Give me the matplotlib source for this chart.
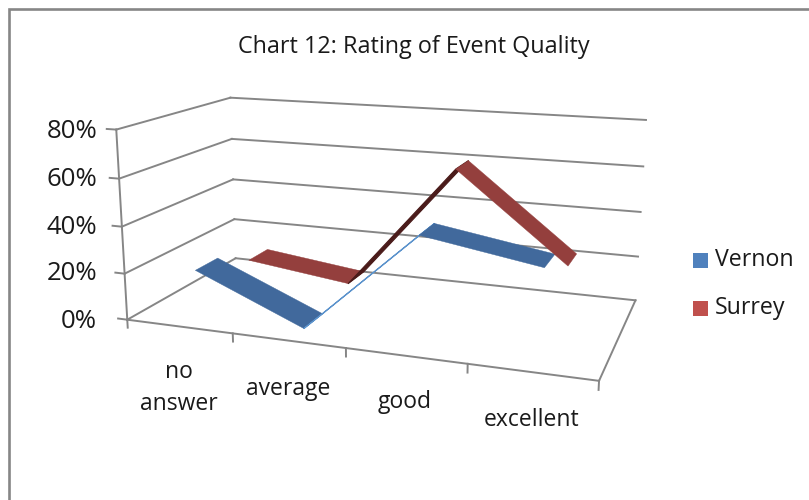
import numpy as np
import matplotlib
matplotlib.use('Agg')
import matplotlib.pyplot as plt
from matplotlib.patches import Rectangle
from mpl_toolkits.mplot3d.art3d import Poly3DCollection

plt.rcParams['font.family'] = ['Open Sans', 'DejaVu Sans']

W, H = 809, 500

categories = ['no\nanswer', 'average', 'good', 'excellent']
vernon = [20, 0.3, 44, 36]
surrey = [11, 5, 60.5, 23]
z_ticks = [0, 20, 40, 60, 80]
z_labels = ['0%', '20%', '40%', '60%', '80%']

GRID = '#868686'
INK = '#1a1a1a'

fig = plt.figure(figsize=(W / 100, H / 100), dpi=100, facecolor='white')

# outer chart border, only the top and left sides are inside the picture
fig.add_artist(Rectangle((8.5 / W, -0.1), 1.2, 1.1 - 9.5 / H, transform=fig.transFigure,
                         fill=False, edgecolor=GRID, linewidth=1.9))

# camera found by fitting to the frame of the reference
L = 539.8
ax = fig.add_axes([111.3 / W, 3.7 / H, L / W, L / H], projection='3d', computed_zorder=False)
ax.set_xlim(0, 4, view_margin=0)
ax.set_ylim(0, 1, view_margin=0)
ax.set_zlim(0, 80, view_margin=0)
ax.set_box_aspect((np.exp(0.895), np.exp(0.205), 1))
ax.view_init(14.082, -70.461, -0.11)
ax.set_proj_type('persp', focal_length=np.exp(-0.957))
ax.set_axis_off()
ax.patch.set_visible(False)


def line3(xs, ys, zs, **kw):
    ax.plot(xs, ys, zs, color=GRID, linewidth=1.4, zorder=1, clip_on=False, **kw)


# walls
for z in z_ticks:
    line3([0, 0], [0, 1], [z, z])
    line3([0, 4], [1, 1], [z, z])
    line3([-0.09, 0], [0, 0], [z, z])
# floor and axes
line3([0, 4], [0, 0], [0, 0])
line3([4, 4], [0, 1], [0, 0])
line3([0, 0], [0, 0], [0, 80])
for x in range(5):
    line3([x, x], [0, 0], [0, -3.5])


def ribbon(values, depth, colors, zorder):
    xs = np.arange(len(values)) + 0.5
    for i in range(len(values) - 1):
        verts = [[(xs[i], depth[1], values[i]), (xs[i + 1], depth[1], values[i + 1]),
                  (xs[i + 1], depth[0], values[i + 1]), (xs[i], depth[0], values[i])]]
        poly = Poly3DCollection(verts, facecolor=colors[i], edgecolor=colors[i],
                                linewidth=0.8 if i == 1 else 0.3, zorder=zorder, shade=False)
        poly.set_clip_on(False)
        ax.add_collection3d(poly)


ribbon(vernon, (0.15, 0.35), ['#41699C', '#5C93CC', '#41699C'], 3)
ribbon(surrey, (0.65, 0.85), ['#943F3D', '#4A1B1A', '#943F3D'], 4)

fig.text(414 / W, 1 - 47 / H, 'Chart 12: Rating of Event Quality', ha='center', va='center',
         fontsize=16.8, color=INK)

# axis labels sit at fixed places on the picture
z_label_y = [321, 274, 227, 179, 132]
for lab, y in zip(z_labels, z_label_y):
    fig.text(97 / W, 1 - y / H, lab, ha='right', va='center', fontsize=18.5, color=INK)
cat_pos = [(179, 388), (288, 389), (405, 402), (532, 420)]
for lab, (x, y) in zip(categories, cat_pos):
    fig.text(x / W, 1 - y / H, lab, ha='center', va='center', fontsize=16.5, color=INK,
             linespacing=1.45)

# legend
for name, color, y in (('Vernon', '#4F81BD', 260.5), ('Surrey', '#C0504D', 308.5)):
    fig.add_artist(Rectangle((693 / W, 1 - (y + 7.5) / H), 15 / W, 15 / H, transform=fig.transFigure,
                             facecolor=color, edgecolor='none'))
    fig.text(715 / W, 1 - y / H, name, ha='left', va='center', fontsize=16.7, color=INK)

fig.savefig('out.png', dpi=100)
